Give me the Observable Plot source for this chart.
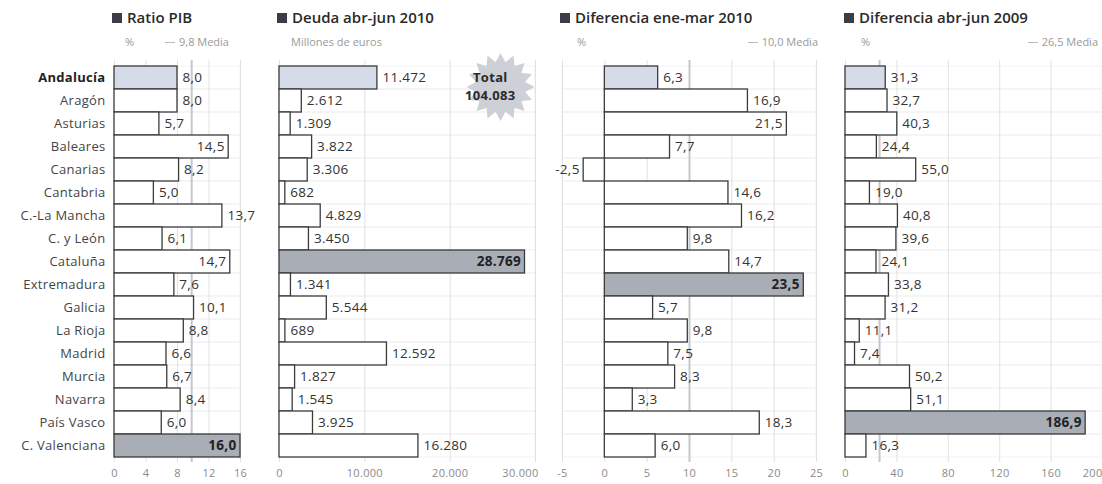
<!DOCTYPE html>
<html><head><meta charset="utf-8">
<script src="https://cdn.jsdelivr.net/npm/d3@7"></script>
<script src="https://cdn.jsdelivr.net/npm/@observablehq/plot@0.6"></script>
<style>
body{margin:0;background:#fff;font-family:"Open Sans",Lato,sans-serif;width:1102px;height:484px;position:relative;overflow:hidden}
.title{position:absolute;top:7px;font-size:15px;font-weight:600;color:#2a2a2a;white-space:nowrap}
.title .sq{display:inline-block;width:10px;height:10px;background:#3a3d45;margin-right:5px;vertical-align:0px}
.sub{position:absolute;top:34px;font-size:11px;color:#9a9a9a;white-space:nowrap}
.sub .dash{display:inline-block;width:10px;height:1.5px;background:#bbb;vertical-align:3px;margin-right:4px}
.plotbox{position:absolute;top:50px}
</style></head>
<body>
<div id="root"></div>
<script>
const regions = ["Andalucía","Aragón","Asturias","Baleares","Canarias","Cantabria","C.-La Mancha","C. y León","Cataluña","Extremadura","Galicia","La Rioja","Madrid","Murcia","Navarra","País Vasco","C. Valenciana"];
const ratioPIB = [8.0,8.0,5.7,14.5,8.2,5.0,13.7,6.1,14.7,7.6,10.1,8.8,6.6,6.7,8.4,6.0,16.0];
const deuda = [11472,2612,1309,3822,3306,682,4829,3450,28769,1341,5544,689,12592,1827,1545,3925,16280];
const difEneMar2010 = [6.3,16.9,21.5,7.7,-2.5,14.6,16.2,9.8,14.7,23.5,5.7,9.8,7.5,8.3,3.3,18.3,6.0];
const difAbrJun2009 = [31.3,32.7,40.3,24.4,55.0,19.0,40.8,39.6,24.1,33.8,31.2,11.1,7.4,50.2,51.1,186.9,16.3];
const mediaRatio = 9.8;
const mediaEneMar = 10.0;
const mediaAbrJun = 26.5;
const totalDeuda = 104083;
const ticksRatio = [0,4,8,12,16];
const ticksDeuda = [0,10000,20000,30000];
const ticksEneMar = [-5,0,5,10,15,20,25];
const ticksAbrJun = [0,40,80,120,160,200];
const titles = ["Ratio PIB","Deuda abr-jun 2010","Diferencia ene-mar 2010","Diferencia abr-jun 2009"];

const loc = d3.formatLocale({decimal:",", thousands:".", grouping:[3], currency:["","€"], minus:"-"});
const f1 = loc.format(".1f");
const fInt = loc.format(",d");
const fTick = loc.format("d");
const FONT = "'Open Sans', Lato, sans-serif";

function starSymbol(n){
  return {draw(ctx, size){
    const R = Math.sqrt(size/Math.PI), r = R*0.74;
    for(let i=0;i<2*n;i++){
      const a = Math.PI*i/n - Math.PI/2, rr = i%2 ? r : R;
      const x = rr*Math.cos(a), y = rr*Math.sin(a);
      i ? ctx.lineTo(x,y) : ctx.moveTo(x,y);
    }
    ctx.closePath();
  }};
}

const root = document.getElementById("root");
function addDiv(cls, left, html, extra){
  const d = document.createElement("div");
  d.className = cls; d.style.left = left+"px"; d.innerHTML = html;
  if (extra) Object.assign(d.style, extra);
  root.appendChild(d); return d;
}

function panel(cfg){
  const data = regions.map((r,i)=>({region:r, value:cfg.values[i]}));
  const [lo,hi] = cfg.domain;
  const maxV = d3.max(cfg.values);
  const isMax = d => d.value === maxV;
  const inside = d => !isMax(d) && d.value>0 && (d.value-lo)/(hi-lo) > 0.87;
  const outside = d => !isMax(d) && d.value>=0 && !inside(d);
  const neg = d => d.value<0;
  const fmt = d => cfg.fmt(d.value);
  const VS = 13.5;
  const axisOpts = {tickSize:0, tickPadding:7, tickFormat:cfg.tickFmt, fill:"#8a8a8a", fontSize:11, label:null};
  const marks = [
    Plot.barX(regions, {x1: lo, x2: hi, y: d=>d, fill:"none", stroke:"#efefef", strokeWidth:0.8}),
    Plot.gridX(cfg.ticks, {stroke:"#dadada", strokeOpacity:1, strokeWidth:0.8})
  ];
  if (cfg.mean != null) marks.push(Plot.ruleX([cfg.mean], {stroke:"#c3c7d0", strokeWidth:2}));
  marks.push(
    Plot.barX(data, {x1:0, x2:"value", y:"region",
      fill: d => d.region==="Andalucía" ? "#d5dbe8" : isMax(d) ? "#a9adb6" : "#ffffff",
      stroke:"#3b3b3b", strokeWidth:1.3}),
    Plot.text(data.filter(outside), {x:"value", y:"region", text:fmt, textAnchor:"start", dx:5, fill:"#333", fontSize:VS}),
    Plot.text(data.filter(neg), {x:"value", y:"region", text:fmt, textAnchor:"end", dx:-4, fill:"#333", fontSize:VS}),
    Plot.text(data.filter(inside), {x:"value", y:"region", text:fmt, textAnchor:"end", dx:-4, fill:"#333", fontSize:VS}),
    Plot.text(data.filter(isMax), {x:"value", y:"region", text:fmt, textAnchor:"end", dx:-4, fill:"#222", fontSize:VS, fontWeight:"bold"}),
    Plot.axisX(cfg.ticks.slice(0, cfg.lastEnd ? -1 : undefined), axisOpts)
  );
  if (cfg.lastEnd) marks.push(Plot.axisX(cfg.ticks.slice(-1), {...axisOpts, textAnchor:"end", dx: cfg.lastDx || 0}));
  if (cfg.showY) {
    marks.push(
      Plot.text(regions.filter(r=>r!=="Andalucía"), {y:d=>d, frameAnchor:"left", dx:-9, textAnchor:"end", text:d=>d, fill:"#444", fontSize:13}),
      Plot.text(regions.filter(r=>r==="Andalucía"), {y:d=>d, frameAnchor:"left", dx:-9, textAnchor:"end", text:d=>d, fill:"#222", fontSize:13, fontWeight:"bold"})
    );
  }
  if (cfg.extra) marks.push(...cfg.extra);
  const svg = Plot.plot({
    width: cfg.width, height: 434,
    marginLeft: cfg.ml, marginRight: cfg.mr, marginTop: 10, marginBottom: 22,
    x: {domain: cfg.domain, axis: null},
    y: {domain: regions, padding: 0, axis: null},
    color: {type: "identity"},
    style: {background:"transparent", overflow:"visible", fontFamily: FONT, letterSpacing:"0.3px"},
    marks
  });
  const box = document.createElement("div");
  box.className = "plotbox"; box.style.left = cfg.left+"px";
  box.appendChild(svg); root.appendChild(box);
}

panel({values: ratioPIB, domain:[0,16], ticks: ticksRatio, mean: mediaRatio, fmt: f1, tickFmt: fTick,
  left:0, width:258, ml:114, mr:18, showY:true});
panel({values: deuda, domain:[0,30000], ticks: ticksDeuda, mean: null, fmt: fInt, tickFmt: fInt,
  left:262, width:295, ml:17, mr:22, lastEnd:true, lastDx:3,
  extra: [
    Plot.dot([totalDeuda], {x: ()=>25900, y: ()=>"Andalucía", dy: 9, r: 34, symbol: starSymbol(16), fill:"#cdd0d6"}),
    Plot.text([totalDeuda], {x: ()=>24700, y: ()=>"Andalucía", dy: 0, text: ()=>"Total", fill:"#2a2a2a", fontSize:13, fontWeight:"bold"}),
    Plot.text([totalDeuda], {x: ()=>24700, y: ()=>"Andalucía", dy: 18, text: d=>fInt(d), fill:"#2a2a2a", fontSize:13, fontWeight:"bold"})
  ]});
panel({values: difEneMar2010, domain:[-5,25], ticks: ticksEneMar, mean: mediaEneMar, fmt: f1, tickFmt: fTick,
  left:545, width:285, ml:17, mr:14});
panel({values: difAbrJun2009, domain:[0,200], ticks: ticksAbrJun, mean: mediaAbrJun, fmt: f1, tickFmt: fTick,
  left:830, width:272, ml:15, mr:0, lastEnd:true});

const tl = [112, 277, 560, 844];
titles.forEach((t,i)=> addDiv("title", tl[i], '<span class="sq"></span>'+t));
addDiv("sub", 125, "%");
addDiv("sub", 165, '<span class="dash"></span>' + f1(mediaRatio) + " Media");
addDiv("sub", 291, "Millones de euros");
addDiv("sub", 577, "%");
addDiv("sub", 0, '<span class="dash"></span>' + f1(mediaEneMar) + " Media", {left:"auto", right:(1102-818)+"px"});
addDiv("sub", 861, "%");
addDiv("sub", 0, '<span class="dash"></span>' + f1(mediaAbrJun) + " Media", {left:"auto", right:(1102-1098)+"px"});
</script>
</body></html>
